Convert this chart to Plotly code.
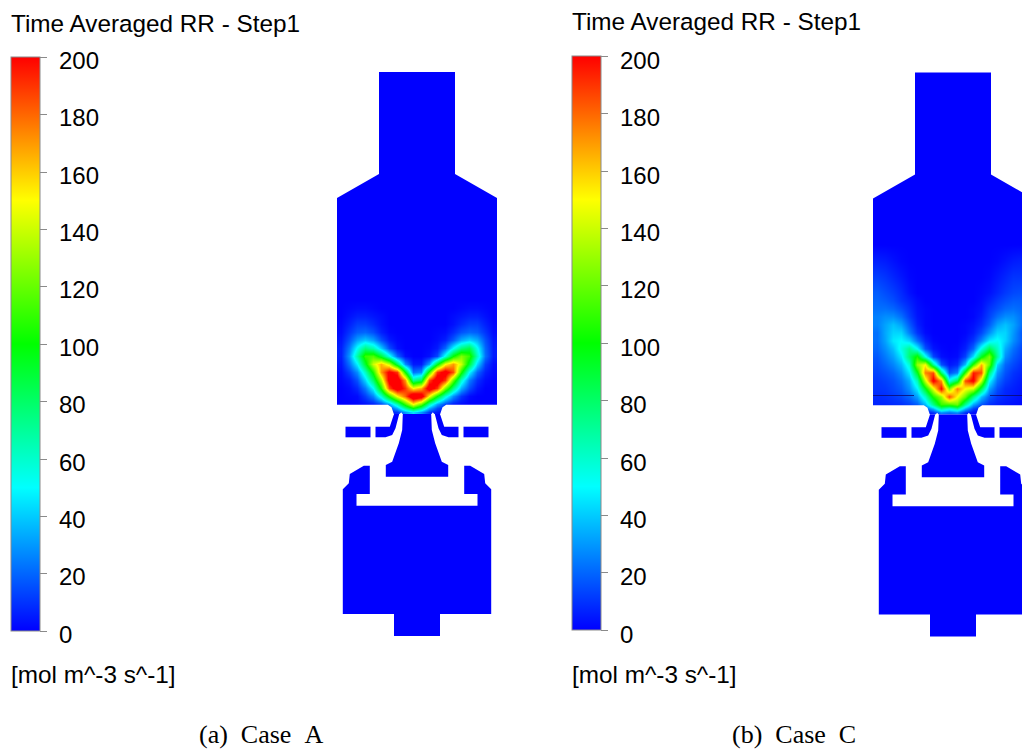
import plotly.graph_objects as go

W, H = 1022, 749

COLORSCALE = [[0, "rgb(0,0,255)"], [0.25, "rgb(0,255,255)"], [0.5, "rgb(0,255,0)"],
              [0.75, "rgb(255,255,0)"], [1, "rgb(255,0,0)"]]
TICK_VALUES = [0, 20, 40, 60, 80, 100, 120, 140, 160, 180, 200]
TICK_LABELS = ["0", "20", "40", "60", "80", "100", "120", "140", "160", "180", "200"]
TITLE = "Time Averaged RR - Step1"
UNITS = "[mol m^-3 s^-1]"
CAPTION_A = "(a)\u00a0\u00a0Case\u00a0\u00a0A"
CAPTION_C = "(b)\u00a0\u00a0Case\u00a0\u00a0C"

FIELD_X = [-76, -68, -60, -52, -44, -36, -28, -20, -12, -4, 4, 12, 20, 28, 36, 44, 52, 60, 68, 76]

FIELD_Y_A = [300, 308, 316, 324, 332, 340, 348, 356, 364, 372, 380, 388, 396, 404, 408, 412]
FIELD_A = [
    [0]*20,
    [0, 1, 2, 2, 1, 0, 0, 0, 0, 0, 0, 0, 0, 0, 0, 1, 2, 2, 1, 0],
    [0, 3, 6, 6, 4, 2, 0, 0, 0, 0, 0, 0, 0, 0, 2, 4, 6, 6, 3, 0],
    [1, 6, 12, 12, 8, 3, 0, 0, 0, 0, 0, 0, 0, 0, 3, 8, 12, 12, 6, 1],
    [2, 10, 18, 20, 15, 6, 1, 0, 0, 0, 0, 0, 1, 2, 8, 16, 20, 18, 10, 2],
    [4, 16, 32, 40, 32, 16, 5, 1, 0, 0, 0, 0, 2, 6, 18, 34, 42, 34, 16, 4],
    [6, 24, 52, 75, 65, 40, 15, 3, 0, 0, 0, 1, 5, 20, 50, 75, 85, 52, 20, 5],
    [6, 30, 68, 110, 115, 90, 55, 20, 3, 0, 0, 3, 14, 55, 100, 125, 110, 62, 22, 5],
    [4, 22, 48, 92, 140, 165, 140, 85, 28, 5, 5, 32, 95, 150, 170, 140, 90, 42, 12, 2],
    [2, 12, 28, 62, 105, 170, 205, 190, 100, 22, 28, 110, 190, 210, 185, 105, 50, 20, 6, 1],
    [1, 5, 16, 42, 80, 135, 210, 215, 170, 70, 85, 185, 215, 190, 120, 60, 25, 9, 2, 0],
    [0, 2, 8, 24, 50, 105, 185, 215, 190, 150, 165, 215, 190, 125, 75, 35, 15, 4, 0, 0],
    [0, 1, 2, 12, 26, 58, 105, 150, 180, 225, 215, 150, 100, 58, 28, 10, 2, 0, 0, 0],
    [0, 0, 1, 3, 6, 14, 32, 65, 110, 150, 120, 65, 32, 14, 5, 2, 0, 0, 0, 0],
    [0, 0, 0, 1, 2, 5, 14, 35, 70, 100, 75, 35, 14, 5, 1, 0, 0, 0, 0, 0],
    [0, 0, 0, 0, 0, 1, 4, 10, 30, 45, 30, 10, 4, 1, 0, 0, 0, 0, 0, 0],
]

FIELD_Y_C = [244, 260, 276, 292, 300, 308, 316, 324, 332, 340, 348, 356, 364, 372, 380, 388, 396, 404, 408, 412]
FIELD_C = [
    [0]*20,
    [6, 5, 3, 1, 0, 0, 0, 0, 0, 0, 0, 0, 0, 0, 0, 1, 3, 5, 6, 6],
    [12, 10, 7, 4, 1, 0, 0, 0, 0, 0, 0, 0, 0, 0, 1, 4, 7, 10, 10, 10],
    [18, 15, 12, 8, 3, 0, 0, 0, 0, 0, 0, 0, 0, 1, 3, 7, 11, 14, 15, 14],
    [20, 18, 15, 10, 6, 2, 0, 0, 0, 0, 0, 0, 0, 2, 6, 11, 15, 18, 18, 16],
    [22, 22, 20, 15, 9, 3, 1, 0, 0, 0, 0, 0, 1, 3, 10, 15, 20, 22, 20, 18],
    [25, 28, 28, 22, 12, 4, 1, 0, 0, 0, 0, 0, 1, 5, 13, 22, 28, 28, 22, 18],
    [25, 32, 38, 32, 18, 6, 1, 0, 0, 0, 0, 1, 3, 8, 18, 32, 38, 32, 22, 16],
    [22, 33, 42, 42, 25, 10, 2, 0, 0, 0, 0, 1, 5, 14, 28, 42, 42, 30, 18, 12],
    [22, 32, 46, 50, 42, 22, 7, 1, 0, 0, 0, 3, 10, 26, 46, 52, 42, 28, 18, 12],
    [20, 28, 38, 55, 72, 50, 16, 4, 1, 0, 1, 6, 20, 55, 85, 62, 34, 22, 14, 9],
    [17, 24, 32, 46, 78, 105, 55, 14, 3, 1, 2, 13, 45, 95, 125, 70, 28, 18, 12, 7],
    [15, 20, 26, 36, 58, 130, 150, 72, 16, 4, 8, 38, 110, 165, 120, 42, 20, 14, 9, 6],
    [13, 16, 20, 28, 46, 95, 175, 185, 80, 16, 26, 110, 195, 185, 78, 30, 16, 10, 7, 5],
    [11, 13, 16, 22, 34, 65, 140, 205, 170, 55, 85, 185, 205, 140, 50, 22, 12, 8, 5, 3],
    [10, 11, 14, 18, 28, 48, 95, 145, 200, 125, 175, 150, 140, 85, 32, 15, 8, 6, 4, 3],
    [8, 9, 11, 14, 20, 32, 60, 105, 130, 185, 150, 120, 75, 38, 18, 10, 7, 5, 3, 2],
    [7, 7, 8, 9, 12, 18, 36, 72, 110, 110, 120, 70, 32, 16, 9, 6, 4, 3, 2, 2],
    [0, 0, 0, 0, 0, 3, 16, 35, 70, 55, 70, 35, 12, 3, 0, 0, 0, 0, 0, 0],
    [0, 0, 0, 0, 0, 0, 2, 8, 25, 20, 25, 8, 2, 0, 0, 0, 0, 0, 0, 0],
]

# Geometry of the combustor section (left half, offset from the centre line, y downward)
UPPER_DX = [-38, -38, -80]
UPPER_Y = [72, 174, 198]
BODY_DX = [-23, -27.2, -41.5, -41.5, -31.5, -24.8, -21.5, -17.8, -14.2, -14.8, -18.2, -24.8, -31.2, -31.2]
BODY_Y = [414, 426.7, 426.7, 437.3, 437.3, 435, 428.3, 414, 414, 430, 443.3, 461.7, 465, 476.7]
BAR_DX = [-71.5, -46.5, -46.5, -71.5]
BAR_Y = [426.7, 426.7, 437.3, 437.3]
LOWER_DX = [-47.2, -53.2, -67.2, -68.2, -74.2, -74.2, -23, -23]
LOWER_Y = [465.7, 465.7, 474, 483.3, 489.3, 614, 614, 636]
LOWER_INNER_DX = [-60.5, -60.5, -47.2]
LOWER_INNER_Y = [505.7, 494, 494]
NOTCH_DX = [-82, -29.2, -25.5, -23.2, -23, -82]
NOTCH_Y = [404.7, 404.7, 407.3, 413.3, 414.5, 414.5]
SLIVER_DX = [-17.8, -15.8, -14.2]
SLIVER_Y = [414.5, 412.3, 414.5]
STREAK_C_LEFT_DX = [-80, -39]
STREAK_C_RIGHT_DX = [37, 69]
STREAK_Y = [395, 395]


def closed(dx_left, y_left):
    dx = list(dx_left) + [-v for v in reversed(dx_left)]
    y = list(y_left) + list(reversed(y_left))
    return dx, y


def poly(fig, dx, y, color, xa, ya):
    fig.add_trace(go.Scatter(x=dx + dx[:1], y=y + y[:1], mode="lines", fill="toself",
                             fillcolor=color, line=dict(width=0), hoverinfo="skip",
                             showlegend=False, xaxis=xa, yaxis=ya))


def colorbar(left, top):
    return dict(x=left / W, xanchor="left", xpad=0, y=1 - top / H, yanchor="top", ypad=0,
                lenmode="pixels", len=574, thicknessmode="pixels", thickness=29,
                tickmode="array", tickvals=TICK_VALUES, showticklabels=False,
                ticks="outside", ticklen=7, tickwidth=1, tickcolor="#8a8a8a",
                outlinecolor="#8a8a8a", outlinewidth=1)


fig = go.Figure()


def panel(field_y, field, xa, ya, left, top):
    fig.add_trace(go.Heatmap(x=FIELD_X, y=field_y, z=field, colorscale=COLORSCALE, zmin=0, zmax=200,
                             zsmooth="best", colorbar=colorbar(left, top), hoverinfo="skip",
                             xaxis=xa, yaxis=ya))
    y_top = field_y[0] - (field_y[1] - field_y[0]) / 2 + 1
    dx, y = closed(UPPER_DX + [-80], UPPER_Y + [y_top])
    poly(fig, dx, y, "rgb(0,0,255)", xa, ya)
    dx, y = closed(BODY_DX, BODY_Y)
    poly(fig, dx, y, "rgb(0,0,255)", xa, ya)
    poly(fig, BAR_DX, BAR_Y, "rgb(0,0,255)", xa, ya)
    poly(fig, [-v for v in BAR_DX], BAR_Y, "rgb(0,0,255)", xa, ya)
    poly(fig, LOWER_DX + [-v for v in reversed(LOWER_DX)] + [-v for v in reversed(LOWER_INNER_DX)] + LOWER_INNER_DX,
         LOWER_Y + list(reversed(LOWER_Y)) + list(reversed(LOWER_INNER_Y)) + LOWER_INNER_Y,
         "rgb(0,0,255)", xa, ya)
    for s in (1, -1):
        poly(fig, [s * v for v in NOTCH_DX], NOTCH_Y, "white", xa, ya)
        poly(fig, [s * v for v in SLIVER_DX], SLIVER_Y, "white", xa, ya)


panel(FIELD_Y_A, FIELD_A, "x", "y", 11, 57.3)
panel(FIELD_Y_C, FIELD_C, "x2", "y2", 572, 56.3)
for sdx in (STREAK_C_LEFT_DX, STREAK_C_RIGHT_DX):
    fig.add_trace(go.Scatter(x=sdx, y=STREAK_Y, mode="lines", line=dict(color="rgb(10,10,110)", width=0.8),
                             hoverinfo="skip", showlegend=False, xaxis="x2", yaxis="y2"))


def text(x, y, s, size=24.3, family="Liberation Sans", anchor="left"):
    return dict(x=x / W, y=1 - y / H, xref="paper", yref="paper", text=s, showarrow=False,
                xanchor=anchor, yanchor="middle", borderpad=0,
                font=dict(family=family, size=size, color="black"))


annotations = []
for left, ytitle, bottom, off in ((11, 23, 631.3, 3), (572, 21, 630.3, 4)):
    annotations.append(text(left - 1, ytitle, TITLE))
    annotations.append(text(left - 1, 674, UNITS))
    for v, lab in zip(TICK_VALUES, TICK_LABELS):
        annotations.append(text(left + 46.5, bottom - v / 200 * 574 + off, lab, size=24))
annotations.append(text(198, 734, CAPTION_A, size=26, family="Liberation Serif"))
annotations.append(text(731, 734, CAPTION_C, size=26, family="Liberation Serif"))

hidden = dict(visible=False, showgrid=False, zeroline=False, domain=[0, 1], fixedrange=True)
fig.update_layout(
    width=W, height=H, margin=dict(l=0, r=0, t=0, b=0), paper_bgcolor="white", plot_bgcolor="rgba(0,0,0,0)",
    showlegend=False, annotations=annotations,
    xaxis=dict(range=[-417, W - 417], **hidden),
    yaxis=dict(range=[H, 0], **hidden),
    xaxis2=dict(range=[-953, W - 953], overlaying="x", **hidden),
    yaxis2=dict(range=[H - 0.5, -0.5], overlaying="y", **hidden),
)

fig.write_html("out.html", config={"displayModeBar": False},
               post_script="document.body.style.margin='0';document.body.style.overflow='hidden';")
